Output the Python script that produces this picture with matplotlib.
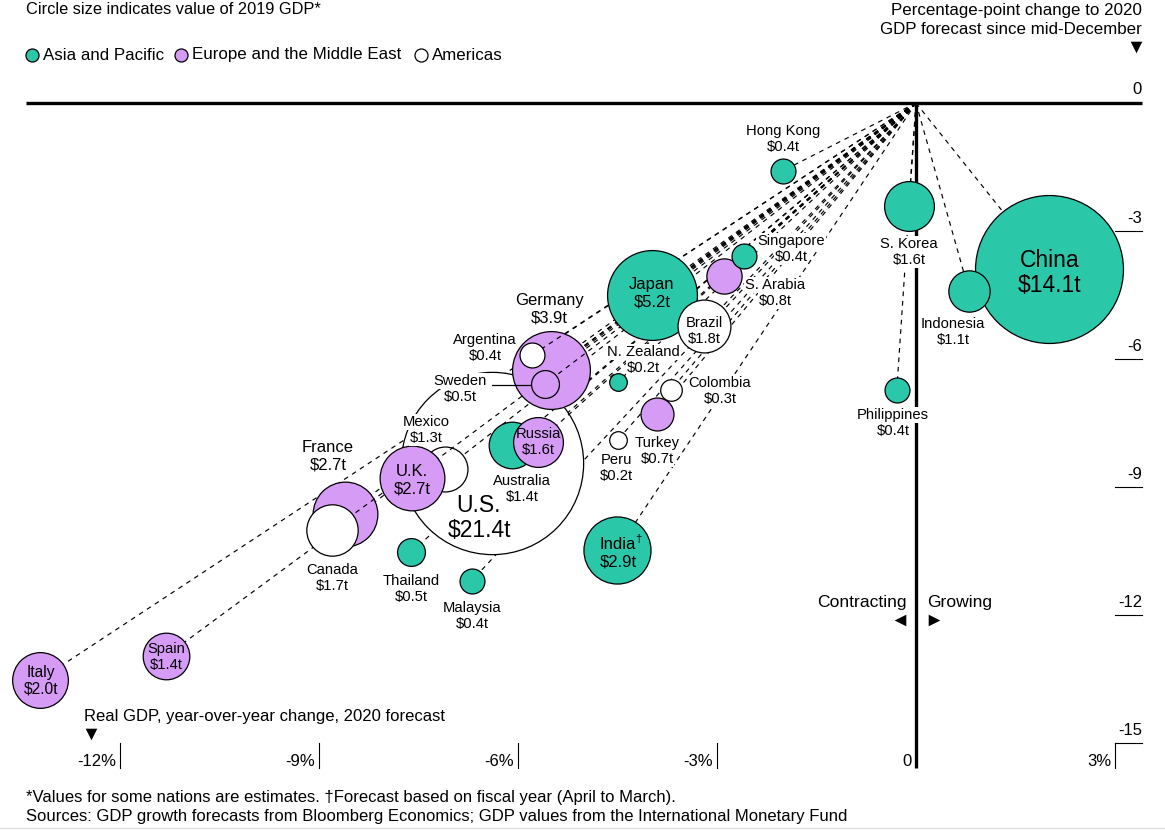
import matplotlib
matplotlib.use("Agg")
import matplotlib.pyplot as plt

plt.rcParams["font.family"] = ["Liberation Sans", "DejaVu Sans"]

GREEN = "#2AC7A9"
PURPLE = "#D69BF5"
WHITE = "#FFFFFF"

# drawing order matters, later countries sit on top of earlier lines and circles
countries = ["Italy", "Spain", "France", "Canada", "Thailand", "Malaysia", "U.S.", "Mexico", "U.K.",
             "Australia", "Russia", "Germany", "Argentina", "Sweden", "Peru", "Turkey", "Colombia",
             "N. Zealand", "India", "Japan", "Brazil", "S. Arabia", "Singapore", "Hong Kong",
             "Philippines", "S. Korea", "China", "Indonesia"]
gdp_growth = [-13.21, -11.31, -8.61, -8.80, -7.61, -6.70, -6.39, -7.10, -7.60,
              -6.09, -5.70, -5.50, -5.79, -5.60, -4.50, -3.90, -3.70,
              -4.50, -4.51, -3.98, -3.20, -2.90, -2.60, -2.01,
              -0.29, -0.11, 2.00, 0.80]
forecast_change = [-13.52, -12.96, -9.63, -10.00, -10.52, -11.20, -8.44, -8.58, -8.79,
                   -8.01, -7.95, -6.26, -5.91, -6.59, -7.90, -7.29, -6.73,
                   -6.54, -10.48, -4.50, -5.23, -4.06, -3.58, -1.59,
                   -6.73, -2.41, -3.89, -4.41]
gdp_2019 = [2.0, 1.4, 2.7, 1.7, 0.5, 0.4, 21.4, 1.3, 2.7,
            1.4, 1.6, 3.9, 0.4, 0.5, 0.2, 0.7, 0.3,
            0.2, 2.9, 5.2, 1.8, 0.8, 0.4, 0.4,
            0.4, 1.6, 14.1, 1.1]
regions = ["EU", "EU", "EU", "AM", "AS", "AS", "AM", "AM", "EU",
           "AS", "EU", "EU", "AM", "EU", "AM", "EU", "AM",
           "AS", "AS", "AS", "AM", "EU", "AS", "AS",
           "AS", "AS", "AS", "AS"]
region_colors = {"AS": GREEN, "EU": PURPLE, "AM": WHITE}
legend_items = ["Asia and Pacific", "Europe and the Middle East", "Americas"]

x_ticks = [-12, -9, -6, -3, 0, 3]
x_tick_labels = ["-12%", "-9%", "-6%", "-3%", "0", "3%"]
y_ticks = [-3, -6, -9, -12, -15]
y_tick_labels = ["-3", "-6", "-9", "-12", "-15"]

# label centre in picture pixels, font size
label_pos = {
    "Italy": (41, 681, 11.2), "Spain": (166, 657, 10.6), "France": (328, 456, 12), "Canada": (332, 578, 10.6),
    "Thailand": (411, 589, 10.6), "Malaysia": (472, 616, 10.6), "U.S.": (479, 518, 16.5), "Mexico": (426, 430, 10.6),
    "U.K.": (412, 480, 12), "Australia": (522, 489, 10.6), "Russia": (538, 442, 10.6), "Germany": (549, 309, 12),
    "Argentina": (485, 348, 10.6), "Sweden": (460, 389, 10.6), "Peru": (616, 468, 10.6), "Turkey": (657, 451, 10.6),
    "Colombia": (720, 391, 10.6), "N. Zealand": (643, 360, 10.6), "India": (618, 553, 12), "Japan": (652, 293, 12),
    "Brazil": (704, 331, 10.6), "S. Arabia": (775, 293, 10.6), "Singapore": (791, 249, 10.6),
    "Hong Kong": (783, 139, 10.6), "Philippines": (893, 423, 10.6), "S. Korea": (909, 252, 10.6),
    "Indonesia": (953, 332, 10.6), "China": (1050, 273, 16.5),
}
# these sit inside their own circle, the others blank out what is behind them
inside_labels = ["Italy", "Spain", "U.K.", "Russia", "India", "Japan", "Brazil", "China", "U.S."]

fig = plt.figure(figsize=(11.65, 8.30), dpi=100)

ax = fig.add_axes([0, 0, 1, 1])
ax.set_xlim(-916 / 66.33, (1165 - 916) / 66.33)
ax.set_ylim(-(830 - 103) / 42.67, 103 / 42.67)
ax.axis("off")

# overlay in pixel coordinates for text and furniture
px = fig.add_axes([0, 0, 1, 1], zorder=5)
px.set_xlim(0, 1165)
px.set_ylim(830, 0)
px.axis("off")
px.patch.set_alpha(0)

# axes lines and ticks
y_bottom = -(768 - 103) / 42.67
y_top_tick = -15
x_right = (1142 - 916) / 66.33
ax.plot([-(916 - 26) / 66.33, x_right], [0, 0], color="black", lw=2.4, solid_capstyle="butt", zorder=1)
ax.plot([0, 0], [0, y_bottom], color="black", lw=2.4, solid_capstyle="butt", zorder=1)
for xt, lab in zip(x_ticks, x_tick_labels):
    if xt != 0:
        ax.plot([xt, xt], [y_top_tick, y_bottom], color="black", lw=0.8, zorder=1)
    px.text(916 + xt * 66.33 - 4, 761, lab, ha="right", va="center", fontsize=12)
for yt, lab in zip(y_ticks, y_tick_labels):
    ax.plot([3, x_right], [yt, yt], color="black", lw=0.8, zorder=1)
    px.text(1142, 103 - yt * 42.67 - 13, lab, ha="right", va="center", fontsize=12)
px.text(1142, 89, "0", ha="right", va="center", fontsize=12)

# lines and circles, one country at a time
z = 2
for name, gx, gy, val, reg in zip(countries, gdp_growth, forecast_change, gdp_2019, regions):
    ax.plot([0, gx], [0, gy], color="black", lw=0.85, dashes=(4, 4), zorder=z)
    r = 19.7 * val ** 0.5
    ax.scatter([gx], [gy], s=(2 * r * 0.72) ** 2, facecolor=region_colors[reg], edgecolor="black",
               linewidth=0.9, zorder=z + 1)
    z += 2

# Sweden leader
px.plot([492, 530], [385, 385], color="black", lw=0.9)

# country labels, each line on its own so the blanking follows the line width
for name, val in zip(countries, gdp_2019):
    lx, ly, fs = label_pos[name]
    lh = fs * 1.5
    bg = None if name in inside_labels else dict(facecolor="white", edgecolor="none", pad=0.5)
    px.text(lx, ly - lh / 2, name, ha="center", va="center", fontsize=fs, bbox=bg)
    px.text(lx, ly + lh / 2, f"${val:.1f}t", ha="center", va="center", fontsize=fs, bbox=bg)
px.text(638, 539, "†", ha="center", va="center", fontsize=8)

# header and legend
px.text(26, 10, "Circle size indicates value of 2019 GDP*", ha="left", va="center", fontsize=11.8)
px.scatter([32], [55], s=88, facecolor=GREEN, edgecolor="black", linewidth=0.9)
px.text(43, 55, legend_items[0], ha="left", va="center", fontsize=12.2)
px.scatter([181], [55], s=88, facecolor=PURPLE, edgecolor="black", linewidth=0.9)
px.text(192, 55, legend_items[1], ha="left", va="center", fontsize=12.2)
px.scatter([421], [55], s=88, facecolor=WHITE, edgecolor="black", linewidth=0.9)
px.text(432, 55, legend_items[2], ha="left", va="center", fontsize=12.2)

px.text(1142, 11, "Percentage-point change to 2020", ha="right", va="center", fontsize=12.2)
px.text(1142, 29, "GDP forecast since mid-December", ha="right", va="center", fontsize=12.2)
px.scatter([1136], [47], marker="v", s=70, color="black", linewidth=0)

px.text(84, 716, "Real GDP, year-over-year change, 2020 forecast", ha="left", va="center", fontsize=12)
px.scatter([91], [734], marker="v", s=70, color="black", linewidth=0)

px.text(907, 602, "Contracting", ha="right", va="center", fontsize=12.6)
px.text(927, 602, "Growing", ha="left", va="center", fontsize=12.6)
px.scatter([900], [620], marker="<", s=70, color="black", linewidth=0)
px.scatter([934], [620], marker=">", s=70, color="black", linewidth=0)

# footnotes
px.text(26, 797, "*Values for some nations are estimates. †Forecast based on fiscal year (April to March).",
        ha="left", va="center", fontsize=12)
px.text(26, 816, "Sources: GDP growth forecasts from Bloomberg Economics; GDP values from the International Monetary Fund",
        ha="left", va="center", fontsize=12)
px.plot([0, 1165], [828, 828], color="#DDDDDD", lw=1)

fig.savefig("out.png", dpi=100)
